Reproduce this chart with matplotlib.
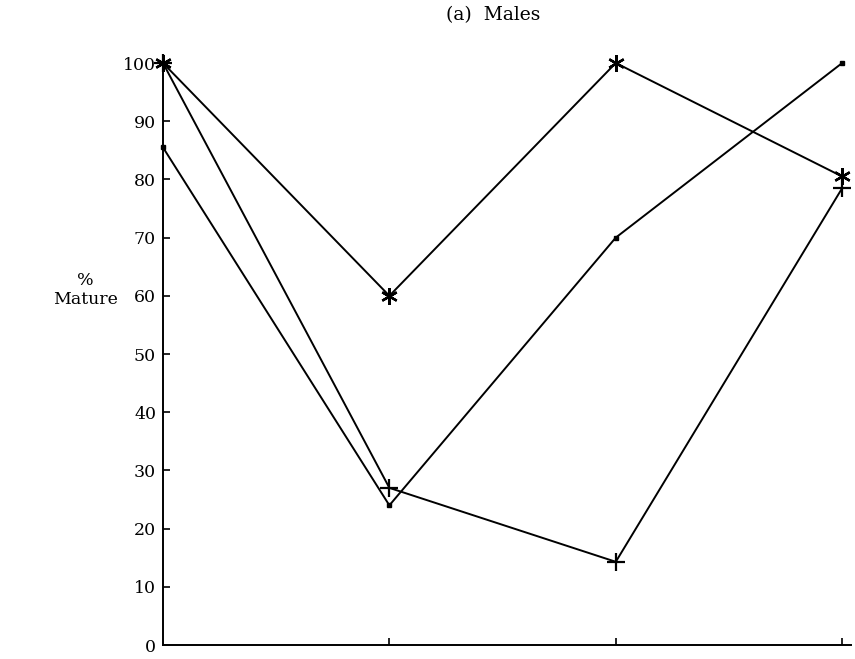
import matplotlib
matplotlib.use("Agg")
import matplotlib.pyplot as plt

# Sampling occasions along the x axis (no tick labels shown)
occasions = [0, 1, 2, 3]
yticks = [0, 10, 20, 30, 40, 50, 60, 70, 80, 90, 100]

# Percentage of mature males per group
star_series = [100, 60, 100, 80.5]
plus_series = [100, 27, 14.3, 78.5]
dot_series = [85.5, 24, 70, 100]

plt.rcParams["font.family"] = ["DejaVu Serif"]

fig = plt.figure(figsize=(8.55, 6.59), dpi=100)
ax = fig.add_axes([0.1906, 0.0212, 0.805, 0.8832])

line_kw = dict(color="black", lw=1.4, clip_on=False)
ax.plot(occasions, star_series, marker=(6, 2, 0), ms=12, mew=1.7, **line_kw)
ax.plot(occasions, plus_series, marker="+", ms=13, mew=1.6, **line_kw)
ax.plot(occasions, dot_series, marker="s", ms=3, **line_kw)

ax.set_xlim(0, 3.04)
ax.set_ylim(0, 100)
ax.set_yticks(yticks)
ax.set_xticks(occasions[1:])
ax.set_xticklabels([])
ax.tick_params(axis="both", direction="in", length=5, width=1.2, labelsize=12.5, colors="black")
ax.tick_params(axis="y", pad=5)

for side in ("top", "right"):
    ax.spines[side].set_visible(False)
for side in ("left", "bottom"):
    ax.spines[side].set_linewidth(1.4)

fig.text(0.577, 0.977, "(a)  Males", ha="center", va="center", fontsize=13.5)
fig.text(0.1, 0.56, "%\nMature", ha="center", va="center", fontsize=12.5, linespacing=1.1)

fig.savefig("out.png", dpi=100, facecolor="white")
